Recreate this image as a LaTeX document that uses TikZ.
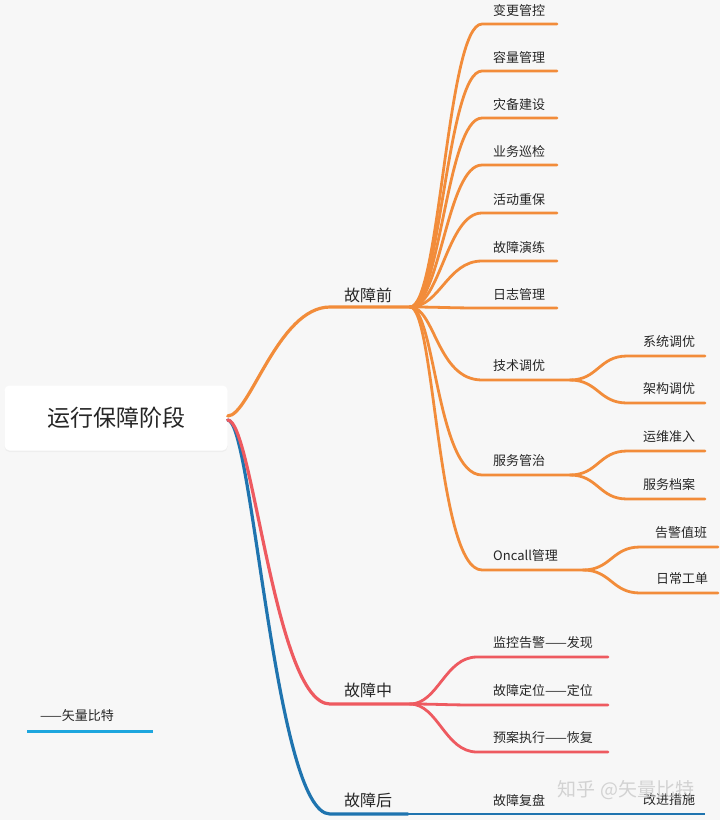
\documentclass[tikz,border=0pt]{standalone}
\usepackage{fontspec}
\setmainfont{Noto Sans CJK SC}
\usetikzlibrary{positioning, shadows}
\definecolor{bgcol}{HTML}{F7F7F7}
\definecolor{orn}{HTML}{F28C3A}
\definecolor{rd}{HTML}{EE5A60}
\definecolor{blu}{HTML}{1F74AF}
\definecolor{cyn}{HTML}{1EA6DE}
\definecolor{txt}{HTML}{262626}

\begin{document}
\begin{tikzpicture}[
  x=1pt, y=-1pt,
  every node/.style={font=\fontsize{13}{15}\selectfont, text=txt, inner sep=0pt},
  rootbox/.style = {fill=white, rounded corners=5pt, minimum width=223pt, minimum height=65pt, font=\fontsize{23}{26}\selectfont, drop shadow={opacity=0.07, shadow xshift=0pt, shadow yshift=-1.5pt}},
  stage/.style = {font=\fontsize{16}{18}\selectfont},
  lbl/.style   = {anchor=west},
  main/.style  = {line width=3.2pt, line cap=round},
  sub/.style   = {line width=2.8pt, line cap=round},
]
  \useasboundingbox[fill=bgcol] (0,0) rectangle (720,820);
  \node[rootbox] (root) at (116,418) {运行保障阶段};

  % three stages
  \coordinate (pre) at (330,307);  \coordinate (preE) at (410,307);
  \coordinate (mid) at (330,704);  \coordinate (midE) at (410,704);
  \coordinate (post) at (330,814); \coordinate (postE) at (408,814);
  \draw[main, orn] ([yshift=2pt]root.east) .. controls +(22,0) and +(-52,0) .. (pre) -- (preE);
  \draw[main, blu] ([yshift=-2pt]root.east) .. controls +(25,0) and +(-55,0) .. (post) -- (postE);
  \draw[main, rd] ([yshift=-2pt]root.east) .. controls +(25,0) and +(-55,0) .. (mid) -- (midE);
  \node[stage] (tpre) at (368,295){故障前};
  \node[stage] (tmid) at (368,690){故障中};
  \node[stage] (tpost) at (368,800){故障后};

  % before
  \foreach \n/\y/\t in {a/24/变更管控, b/71/容量管理, c/118/灾备建设, d/165/业务巡检, e/213/活动重保, f/261/故障演练, g/308/日志管理}{
    \coordinate (c\n) at (482,\y);
    \coordinate (e\n) at (557,\y);
    \draw[sub, orn] (preE) .. controls +(30,0) and +(-35,0) .. (c\n) -- (e\n);
    \node[lbl] (l\n) at (493,\y-13){\t};
  }
  \foreach \n/\y/\x/\t in {h/380/570/技术调优, i/475/570/服务管治, j/570/583/Oncall管理}{
    \coordinate (c\n) at (482,\y);
    \coordinate (e\n) at (\x,\y);
    \draw[sub, orn] (preE) .. controls +(25,0) and +(-45,0) .. (c\n) -- (e\n);
    \node[lbl] (l\n) at (493,\y-14){\t};
  }
  \foreach \p/\n/\y/\x/\s/\t in {h/h1/356/627/643/系统调优, h/h2/403/627/643/架构调优,
                                 i/i1/451/627/643/运维准入, i/i2/499/627/643/服务档案,
                                 j/j1/547/640/655/告警值班, j/j2/593/640/656/日常工单}{
    \coordinate (c\n) at (\x,\y);
    \coordinate (e\n) at (\x+78,\y);
    \draw[sub, orn] (e\p) .. controls +(28,0) and +(-28,0) .. (c\n) -- (e\n);
    \node[lbl] (l\n) at (\s,\y-14){\t};
  }

  % during
  \foreach \n/\y/\t in {m1/657/监控告警——发现, m2/705/故障定位——定位, m3/752/预案执行——恢复}{
    \coordinate (c\n) at (477,\y);
    \coordinate (e\n) at (608,\y);
    \draw[sub, rd] (midE) .. controls +(28,0) and +(-32,0) .. (c\n) -- (e\n);
    \node[lbl] (l\n) at (493,\y-14){\t};
  }

  % after
  \coordinate (pend) at (705,814);
  \draw[blu, line width=2pt] (postE) -- (pend);
  \node[lbl] (lp1) at (493,800){故障复盘};
  \node[lbl] (lp2) at (643,800){改进措施};

  % legend and mark
  \node[lbl] (sig) at (40,716){——矢量比特};
  \coordinate (sa) at (27,731); \coordinate (sb) at (153,731);
  \draw[cyn, line width=3pt] (sa) -- (sb);
  \node[font=\fontsize{19}{21}\selectfont, text=gray!40, opacity=0.85] (wm) at (626,790){知乎 @矢量比特};
\end{tikzpicture}
\end{document}
